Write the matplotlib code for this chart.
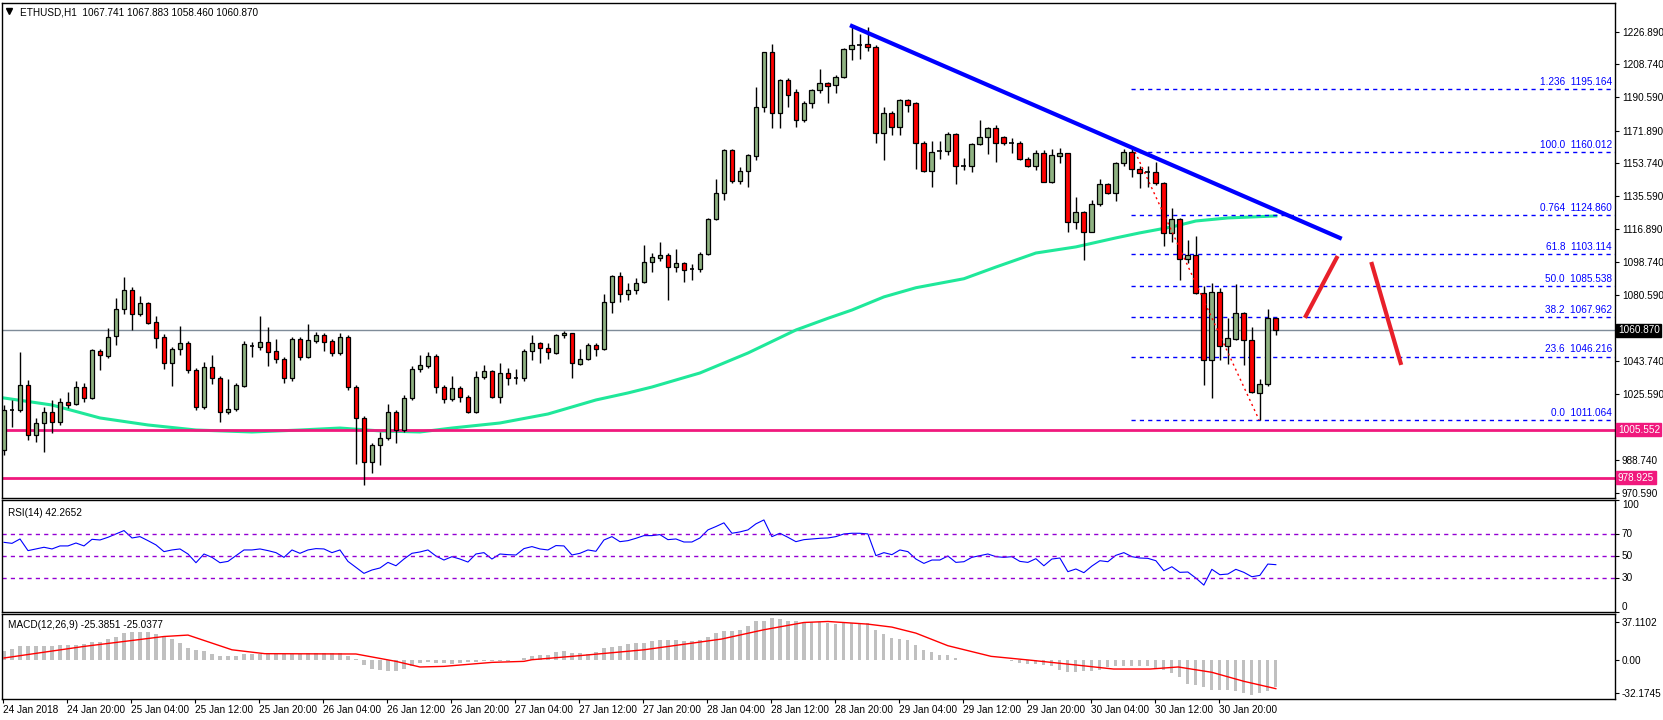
import matplotlib
matplotlib.use("Agg")
import matplotlib.pyplot as plt
from matplotlib.patches import Rectangle
import numpy as np

# ---------------- data ----------------
opens = [994.3,1016.5,1016.5,1030.4,1002.6,1009.3,1015.4,1009.9,1021.0,1019.9,
         1029.3,1023.2,1049.4,1046.6,1057.7,1072.7,1083.3,1069.9,1076.0,1065.5,
         1057.1,1042.7,1050.5,1053.8,1038.8,1018.2,1040.4,1034.3,1015.4,1017.1,
         1029.9,1052.1,1051.6,1054.3,1049.4,1044.9,1034.3,1056.0,1046.0,1054.9,
         1058.2,1054.9,1048.2,1057.1,1029.3,1012.1,987.6,997.1,1001.0,1015.4,
         1005.4,1023.2,1039.3,1041.0,1046.6,1029.3,1022.7,1028.8,1023.8,1015.4,
         1034.9,1038.2,1023.8,1037.1,1034.3,1034.3,1049.4,1053.8,1051.0,1048.2,
         1058.2,1059.3,1042.1,1044.9,1052.7,1050.5,1076.6,1091.0,1081.0,1083.3,
         1087.7,1098.8,1101.0,1102.7,1096.0,1098.3,1094.9,1094.9,1103.3,1122.7,
         1137.2,1161.1,1143.9,1149.4,1157.8,1185.0,1215.6,1181.7,1200.0,1193.3,
         1177.8,1187.2,1194.5,1198.4,1197.2,1201.7,1217.3,1219.5,1220.0,1218.4,
         1170.6,1181.7,1173.9,1188.9,1187.2,1165.0,1149.4,1160.5,1160.5,1170.0,
         1152.2,1152.2,1164.4,1168.3,1173.3,1168.3,1165.0,1165.0,1156.1,1152.2,
         1159.4,1143.3,1157.8,1159.4,1121.1,1126.6,1115.5,1131.1,1142.2,1137.2,
         1153.9,1160.0,1150.5,1148.9,1148.9,1142.8,1115.0,1122.7,1100.5,1102.7,
         1081.6,1044.3,1082.2,1052.1,1056.0,1070.5,1055.5,1026.0,1031.0,1067.741]
closes = [1016.5,1016.8,1030.4,1002.6,1009.3,1015.4,1009.9,1021.0,1019.3,1029.3,
          1023.2,1049.9,1047.1,1057.1,1072.7,1083.3,1069.9,1076.0,1064.9,1056.6,
          1042.7,1050.5,1053.8,1038.8,1018.2,1040.4,1034.3,1015.4,1017.1,1030.4,
          1053.2,1052.1,1054.3,1048.8,1044.9,1034.3,1056.0,1046.0,1055.5,1058.2,
          1054.3,1048.2,1057.1,1029.3,1012.1,987.6,997.1,1001.0,1015.4,1005.4,
          1023.2,1039.3,1041.6,1046.6,1029.3,1022.7,1028.8,1023.8,1015.4,1034.9,
          1038.2,1023.8,1037.1,1034.3,1034.4,1049.4,1053.8,1051.0,1048.8,1058.2,
          1059.3,1042.7,1044.9,1052.7,1050.5,1076.6,1091.0,1081.0,1083.3,1087.2,
          1098.8,1101.6,1102.7,1096.0,1098.3,1094.4,1094.9,1103.3,1122.7,1137.2,
          1161.1,1143.9,1149.4,1158.3,1185.0,1215.6,1181.7,1200.0,1191.7,1177.8,
          1187.2,1194.5,1198.4,1196.7,1201.7,1217.3,1219.5,1219.6,1218.4,1170.6,
          1181.7,1173.9,1188.9,1186.1,1165.0,1149.4,1160.0,1160.6,1170.0,1152.2,
          1152.3,1164.4,1168.3,1173.3,1165.0,1165.0,1165.1,1156.1,1152.2,1159.4,
          1143.3,1158.3,1159.4,1121.1,1126.6,1115.5,1131.1,1142.2,1137.2,1153.9,
          1160.0,1150.5,1148.3,1149.0,1142.8,1115.0,1122.7,1100.5,1102.7,1081.6,
          1044.3,1082.2,1052.1,1056.6,1070.5,1055.5,1026.6,1031.0,1067.7,1060.870]
highs = [1019.3,1022.1,1048.8,1033.2,1012.1,1018.2,1022.1,1023.2,1026.5,1032.7,
         1031.5,1050.5,1050.5,1062.1,1078.8,1090.5,1084.9,1079.9,1076.6,1068.8,
         1058.8,1051.6,1063.2,1054.9,1039.9,1043.2,1047.1,1035.4,1033.8,1031.5,
         1054.9,1054.3,1068.8,1062.7,1056.0,1046.0,1057.1,1057.1,1064.4,1059.9,
         1059.3,1056.0,1059.3,1058.2,1030.4,1013.2,998.2,1004.3,1019.9,1016.5,
         1024.9,1041.0,1047.1,1048.8,1047.7,1030.4,1035.4,1029.9,1024.9,1038.2,
         1041.6,1038.8,1042.7,1039.9,1039.3,1050.5,1058.2,1054.3,1053.8,1058.8,
         1060.5,1059.3,1050.5,1053.8,1053.8,1081.0,1091.6,1093.3,1087.2,1089.9,
         1108.3,1103.8,1109.9,1103.8,1106.1,1098.8,1097.7,1104.4,1123.3,1145.0,
         1161.7,1161.7,1151.6,1158.9,1196.1,1215.6,1220.0,1200.6,1201.1,1195.0,
         1188.3,1195.0,1206.1,1198.9,1202.8,1217.8,1230.0,1225.6,1229.5,1219.5,
         1185.0,1182.8,1189.5,1189.5,1187.8,1166.1,1166.1,1166.1,1171.1,1170.6,
         1156.7,1165.0,1177.8,1173.9,1175.0,1168.9,1167.8,1166.1,1157.2,1161.1,
         1161.1,1161.7,1162.2,1159.4,1135.0,1127.2,1133.3,1145.0,1142.8,1154.4,
         1161.7,1162.2,1152.2,1152.2,1154.4,1143.3,1128.8,1123.3,1111.1,1113.3,
         1085.5,1087.2,1084.4,1067.7,1086.6,1071.0,1062.7,1033.8,1072.7,1067.883]
lows = [991.5,1007.1,1015.4,999.9,998.7,993.2,1003.8,1008.2,1017.7,1019.3,
        1021.0,1022.7,1038.8,1045.5,1052.7,1069.9,1061.0,1068.8,1064.4,1051.0,
        1039.3,1029.9,1047.1,1037.1,1016.5,1017.1,1031.0,1009.9,1014.3,1016.0,
        1029.3,1046.0,1049.9,1041.0,1042.7,1031.5,1032.7,1044.3,1045.5,1053.8,
        1049.4,1046.6,1047.1,1027.7,986.5,974.8,981.5,986.0,999.9,998.2,
        1004.3,1022.1,1037.7,1039.9,1026.0,1020.4,1021.5,1021.0,1014.9,1014.9,
        1033.8,1023.2,1020.4,1030.4,1031.0,1032.7,1044.3,1042.7,1044.9,1047.7,
        1056.6,1034.3,1041.6,1044.3,1046.6,1049.9,1070.5,1076.6,1077.7,1081.0,
        1087.2,1093.3,1099.4,1077.7,1093.3,1087.7,1088.8,1093.3,1102.7,1122.2,
        1133.3,1142.8,1142.2,1140.5,1155.5,1182.2,1173.3,1173.3,1185.0,1173.9,
        1176.7,1184.5,1192.8,1187.2,1192.8,1201.1,1211.1,1211.7,1216.1,1165.0,
        1155.5,1169.4,1169.4,1182.2,1150.5,1148.9,1140.5,1156.1,1158.3,1142.2,
        1150.0,1148.9,1163.9,1158.9,1154.4,1163.9,1159.4,1155.5,1151.6,1150.0,
        1143.3,1142.8,1153.9,1115.5,1117.2,1099.9,1115.5,1130.0,1136.6,1132.7,
        1152.2,1146.1,1140.0,1140.5,1141.6,1107.7,1110.0,1088.8,1098.3,1081.0,
        1030.4,1023.2,1044.3,1042.1,1055.5,1041.6,1026.0,1011.0,1029.9,1058.460]

ma_idx = [0,6,12,18,24,31,37,42,47,52,56,62,68,74,78,81,87,93,99,103,106,110,114,117,120,124,129,134,139,142,146,149,153,159]
ma_val = [1023.2,1019.3,1012.1,1008.2,1005.4,1004.3,1005.4,1006.5,1004.9,1004.3,1006.5,1009.3,1014.3,1022.1,1026.0,1029.3,
          1037.1,1048.2,1061.0,1067.5,1072.1,1079.4,1084.5,1087.0,1089.5,1096.0,1103.8,1107.2,1112.2,1115.0,1118.3,1121.6,1123.3,1124.4]

rsi = [62.2,61.3,65.2,54.8,56.3,57.8,56.3,59.0,59.0,61.6,59.0,64.9,64.3,66.7,69.7,72.7,66.1,67.3,63.7,59.9,
       53.9,55.4,56.3,51.8,44.0,51.8,48.8,44.0,45.2,50.3,55.4,55.4,56.3,54.8,53.0,48.8,55.4,52.4,55.4,56.6,
       56.3,53.0,55.4,45.2,39.9,34.5,37.5,39.3,44.3,41.3,47.3,52.4,53.6,55.4,50.0,46.4,49.4,47.3,44.6,51.8,
       53.0,47.3,51.8,51.2,50.9,56.6,58.4,56.3,55.4,59.3,59.0,50.9,52.4,55.4,54.2,64.3,67.3,62.8,63.7,65.8,
       68.2,68.2,69.1,64.6,65.2,62.5,62.5,66.1,73.3,76.3,79.6,70.3,71.5,73.3,78.7,82.2,67.3,70.3,66.7,62.8,
       64.6,65.2,65.8,66.1,67.3,69.7,70.3,70.3,69.7,50.3,53.0,51.2,55.4,53.9,47.3,43.4,46.4,46.4,50.0,44.3,
       44.9,48.8,50.3,51.8,49.4,48.8,49.4,45.2,44.3,47.6,41.3,47.3,48.2,36.0,38.4,35.1,41.0,45.8,44.9,50.6,
       53.0,49.4,48.2,47.9,45.8,36.9,40.4,35.4,35.7,30.3,24.0,38.1,33.3,33.9,38.1,35.4,31.5,32.7,42.8,42.2652]

macd_hist = [8.5,10.7,13.3,13.3,13.3,14.0,14.0,15.0,15.0,15.0,16.0,18.0,18.0,20.5,23.0,26.3,27.0,27.6,27.0,25.7,
             23.0,20.5,16.6,11.7,10.0,8.5,6.2,3.6,3.6,4.2,6.2,6.2,6.2,5.9,5.9,5.9,5.9,6.2,6.8,6.8,
             6.8,6.8,6.8,4.2,1.0,-4.5,-8.8,-10.0,-10.4,-11.0,-8.8,-5.5,-2.9,-2.3,-2.9,-2.9,-3.6,-2.9,-2.3,-2.3,
             -1.3,-1.3,-1.0,-0.6,-0.3,2.0,4.2,5.2,5.2,7.5,8.5,6.8,6.8,6.2,7.5,11.4,12.7,14.0,16.0,16.6,
             16.6,18.2,19.8,19.8,19.8,18.2,18.2,19.2,23.0,26.3,28.0,28.0,29.6,33.5,38.3,38.3,41.0,40.3,38.3,37.7,
             36.7,36.7,36.7,36.0,35.4,36.0,36.0,36.0,36.0,29.6,25.7,21.5,20.5,19.2,15.0,10.0,7.5,5.2,5.2,2.0,
             0.3,0.3,0.3,0.3,-0.3,-0.3,-1.3,-2.9,-3.9,-3.9,-4.5,-6.2,-9.4,-12.0,-12.0,-11.0,-11.0,-9.4,-6.8,-6.2,
             -5.5,-5.5,-5.5,-6.2,-7.8,-9.4,-12.7,-16.6,-23.0,-24.0,-26.3,-29.0,-29.0,-29.6,-29.9,-32.2,-33.8,-32.2,-29.9,-26.3]
sig_idx = [0,10,20,23,28.5,32.6,44,49,52,55,61,65,66,71,76.5,80,89.7,95,100,103,108,111,114,118,123.4,128.5,133.6,138.7,143.3,146.8,151,155,159]
sig_val = [2.0,13.3,23.0,24.4,10.0,6.2,5.9,-1.3,-6.8,-6.2,-2.3,-1.3,0.3,3.6,7.5,10.0,20.5,29.6,36.7,37.7,35.1,32.2,
           26.3,14.0,3.6,-0.3,-4.5,-8.8,-8.8,-6.8,-12.0,-20.8,-28.0]

fib_names = ["1.236","100.0","0.764","61.8","50.0","38.2","23.6","0.0"]
fib_levels = [1195.164,1160.012,1124.860,1103.114,1085.538,1067.962,1046.216,1011.064]
support_levels = [1005.552,978.925]
last_price = 1060.870
trend_pts = ([106, 167], [1230.0, 1112.2])
fib_swing = ([141.4, 156.9], [1160.012, 1011.064])
arrow_up = ([162.75, 166.6], [1068.8, 1101.1])
arrow_down = ([171.0, 174.6], [1097.7, 1042.7])

price_ticks = [1226.890,1208.740,1190.590,1171.890,1153.740,1135.590,1116.890,1098.740,1080.590,
               1043.740,1025.590,988.740,970.590]
time_labels = ["24 Jan 2018","24 Jan 20:00","25 Jan 04:00","25 Jan 12:00","25 Jan 20:00","26 Jan 04:00",
               "26 Jan 12:00","26 Jan 20:00","27 Jan 04:00","27 Jan 12:00","27 Jan 20:00","28 Jan 04:00",
               "28 Jan 12:00","28 Jan 20:00","29 Jan 04:00","29 Jan 12:00","29 Jan 20:00","30 Jan 04:00",
               "30 Jan 12:00","30 Jan 20:00"]

# ---------------- figure ----------------
W, H = 1663, 720
plt.rcParams["font.family"] = "Liberation Sans"
fig = plt.figure(figsize=(W/100, H/100), dpi=100)
def fax(x0, y0, x1, y1):
    return fig.add_axes([x0/W, 1-y1/H, (x1-x0)/W, (y1-y0)/H])
L, R = 2, 1615
ax = fax(L, 3, R, 498)
ax_r = fax(L, 500, R, 612)
ax_m = fax(L, 614, R, 699)
XL = (-0.25, 201.4)
FS = 7.2
for a in (ax, ax_r, ax_m):
    a.set_xlim(*XL)
    a.yaxis.tick_right()
    a.tick_params(axis="y", length=3, labelsize=FS, pad=2, direction="out")
    a.tick_params(axis="x", length=0, labelbottom=False)
    for s in a.spines.values():
        s.set_linewidth(1.0)
ax.set_ylim(967.6, 1242.8)
ax_r.set_ylim(0, 100)
ax_m.set_ylim(-38.1, 45.0)

n = len(closes)
x = np.arange(n)
bw = 0.6
for i in range(n):
    o, c, h, l = opens[i], closes[i], highs[i], lows[i]
    ax.vlines(i, l, h, color="black", lw=1, zorder=3)
    bull = c >= o
    lo, hi = min(o, c), max(o, c)
    if hi - lo < 0.4:
        ax.hlines(c, i-bw/2, i+bw/2, color="black", lw=1.2, zorder=4)
    else:
        ax.add_patch(Rectangle((i-bw/2, lo), bw, hi-lo, facecolor="#8FB282" if bull else "#FF0000",
                               edgecolor="black", lw=0.9, zorder=4))

ax.plot(ma_idx, ma_val, color="#1FE89A", lw=2.2, zorder=2)
for lv in support_levels:
    ax.axhline(lv, color="#F0197D", lw=2, zorder=2)
ax.axhline(last_price, color="#7F8C99", lw=1, zorder=1)
ax.plot(*trend_pts, color="#0000FF", lw=3, zorder=5)
ax.plot(*fib_swing, color="#FF0000", lw=1, ls=(0, (1.5, 2.5)), zorder=5)
ax.plot(*arrow_up, color="#E8202A", lw=3, zorder=5)
ax.plot(*arrow_down, color="#E8202A", lw=3, zorder=5)
for nm, lv in zip(fib_names, fib_levels):
    ax.hlines(lv, 140.9, XL[1], color="#0000FF", lw=1, ls=(0, (3, 3)), zorder=2)
    ax.text(XL[1]-0.4, lv+1.2, f"{nm}  {lv:.3f}", color="#0000FF", fontsize=FS, ha="right", va="bottom", zorder=6)

ax.set_yticks(price_ticks)
ax.set_yticklabels([f"{t:.3f}" for t in price_ticks])
def tag(a, val, txt, fc):
    a.annotate(txt, xy=(1.0, val), xycoords=("axes fraction", "data"), xytext=(2, 0),
               textcoords="offset points", color="white", fontsize=FS, va="center", ha="left",
               bbox=dict(boxstyle="square,pad=0.15", fc=fc, ec=fc), annotation_clip=False)
tag(ax, last_price, f"{last_price:.3f}", "black")
for lv in support_levels:
    tag(ax, lv, f"{lv:.3f}", "#F0197D")
ax.text(0.011, 0.99, "ETHUSD,H1  1067.741 1067.883 1058.460 1060.870", transform=ax.transAxes,
        fontsize=FS, va="top", ha="left")
ax.plot([0.0045], [0.983], marker="v", color="black", ms=4, transform=ax.transAxes)

# RSI
ax_r.plot(x, rsi, color="#0000FF", lw=0.8)
for lv in (70, 50, 30):
    ax_r.axhline(lv, color="#9400D3", lw=1, ls=(0, (3, 3)))
ax_r.set_yticks([100, 70, 50, 30, 0])
ax_r.set_yticklabels(["100", "70", "50", "30", "0"])
for t, va in zip(ax_r.get_yticklabels(), ["top", "center", "center", "center", "bottom"]):
    t.set_va(va)
ax_r.text(0.004, 0.93, "RSI(14) 42.2652", transform=ax_r.transAxes, fontsize=FS, va="top")

# MACD
ax_m.bar(x, macd_hist, width=0.4, color="#C0C0C0", zorder=2)
ax_m.plot(sig_idx, sig_val, color="#FF0000", lw=1, zorder=3)
ax_m.set_yticks([37.1102, 0.0, -32.1745])
ax_m.set_yticklabels(["37.1102", "0.00", "-32.1745"])
ax_m.text(0.004, 0.93, "MACD(12,26,9) -25.3851 -25.0377", transform=ax_m.transAxes, fontsize=FS, va="top")
ax_m.set_xticks([8*k - 0.1 for k in range(len(time_labels))])
ax_m.tick_params(axis="x", length=3, direction="out", labelbottom=True, labelsize=FS, pad=1)
ax_m.set_xticklabels(time_labels, ha="left")

fig.savefig("out.png", dpi=100)
